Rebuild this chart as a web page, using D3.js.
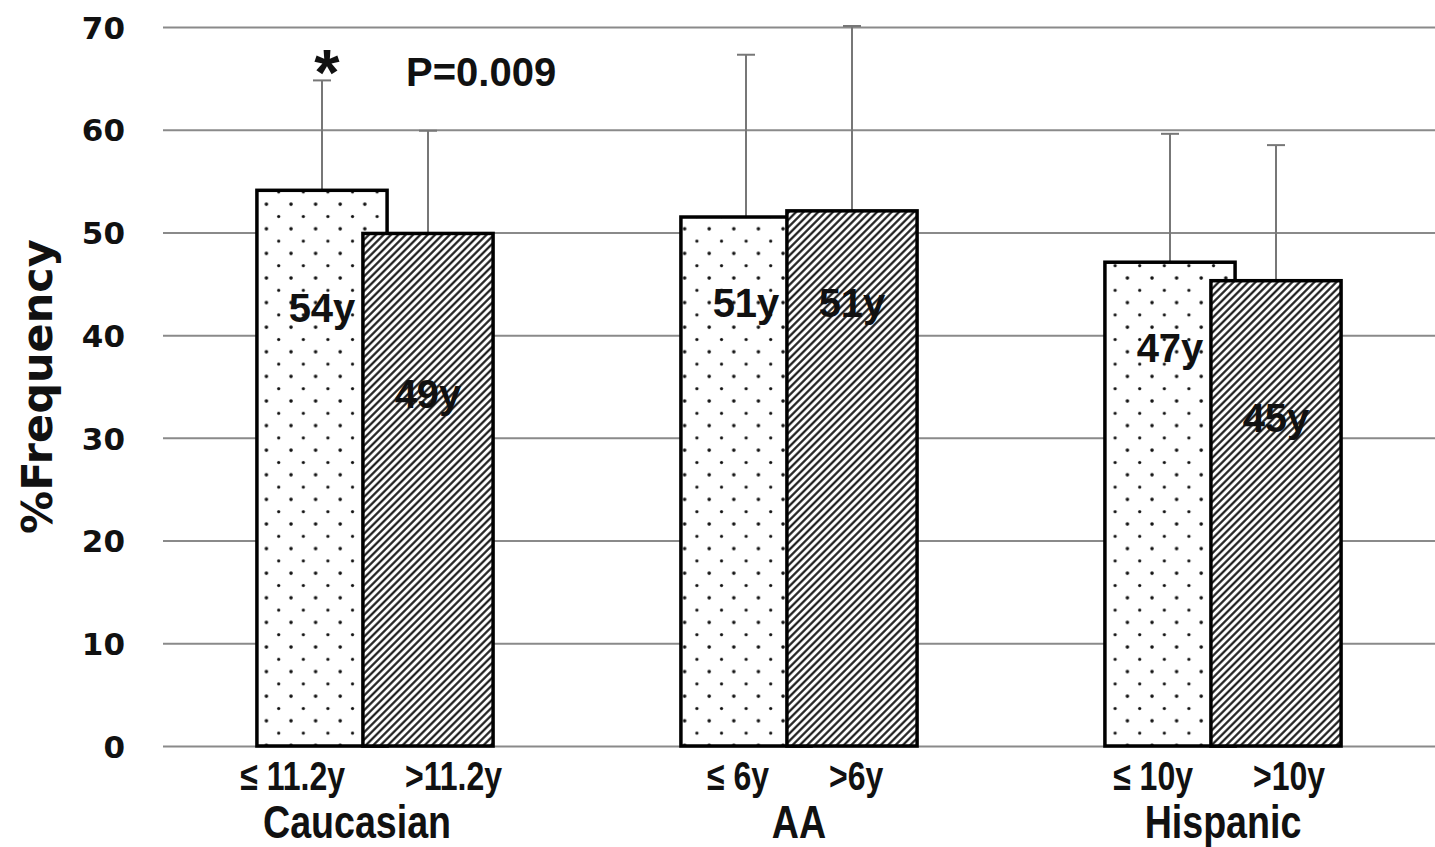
<!DOCTYPE html>
<html>
<head>
<meta charset="utf-8">
<script src="https://cdn.jsdelivr.net/npm/d3@7"></script>
<style>
  body { margin: 0; background: #fff; }
  svg { display: block; }
  .tick line { stroke: #8a8a8a; stroke-width: 2; }
  .domain { display: none; }
  .tick text { font-family: "DejaVu Sans", sans-serif; font-weight: bold; font-size: 31px; fill: #111; }
  .narrow { font-family: "Liberation Sans", Arial, sans-serif; font-weight: bold; fill: #111; }
  .ann { font-family: "Liberation Sans", Arial, sans-serif; font-weight: bold; fill: #111; }
</style>
</head>
<body>
<div id="vis"></div>
<script>
const W = 1435, H = 847;
const margin = { top: 27, right: 0, bottom: 101, left: 163 };

// data
const groups = ["Caucasian", "AA", "Hispanic"];
const lowLabels = ["\u2264 11.2y", "\u2264 6y", "\u2264 10y"];
const highLabels = [">11.2y", ">6y", ">10y"];
const lowValues = [54.1, 51.5, 47.1];
const highValues = [49.9, 52.1, 45.3];
const lowErr = [10.7, 15.8, 12.5];
const highErr = [10.0, 18.0, 13.2];
const lowAge = ["54y", "51y", "47y"];
const highAge = ["49y", "51y", "45y"];
const lowAgeAt = [41.3, 41.8, 37.4];   // label baseline, in axis units
const highAgeAt = [32.9, 41.8, 30.6];
const yTicks = [0, 10, 20, 30, 40, 50, 60, 70];

const width = W - margin.left - margin.right;
const height = H - margin.top - margin.bottom;

const svg = d3.select("#vis").append("svg")
    .attr("width", W)
    .attr("height", H);

const defs = svg.append("defs");

// dotted fill
const dots = defs.append("pattern")
    .attr("id", "dots")
    .attr("patternUnits", "userSpaceOnUse")
    .attr("width", 24.6)
    .attr("height", 24.6);
dots.append("rect").attr("width", 24.6).attr("height", 24.6).attr("fill", "#fff");
dots.append("circle").attr("cx", 5).attr("cy", 5).attr("r", 1.8).attr("fill", "#111");
dots.append("circle").attr("cx", 17.3).attr("cy", 17.3).attr("r", 1.6).attr("fill", "#111");

// diagonal hatch
const hatch = defs.append("pattern")
    .attr("id", "hatch")
    .attr("patternUnits", "userSpaceOnUse")
    .attr("width", 5.2)
    .attr("height", 10)
    .attr("patternTransform", "rotate(45)");
hatch.append("rect").attr("width", 5.2).attr("height", 10).attr("fill", "#fff");
hatch.append("line")
    .attr("x1", 1.3).attr("x2", 1.3)
    .attr("y1", 0).attr("y2", 10)
    .attr("stroke", "#111")
    .attr("stroke-width", 2.1);

const g = svg.append("g")
    .attr("transform", `translate(${margin.left},${margin.top})`);

const x0 = d3.scaleBand().domain(groups).range([0, width]).padding(0);
const y = d3.scaleLinear().domain([0, 70]).range([height, 0]);

const barW = x0.bandwidth() * 0.307;
const x1 = d3.scalePoint().domain(["low", "high"])
    .range([-x0.bandwidth() * 0.125, x0.bandwidth() * 0.125]);

// gridlines + tick labels
g.append("g")
    .attr("class", "axis y-axis")
    .call(d3.axisLeft(y).tickValues(yTicks).tickSize(-width).tickPadding(38))
    .selectAll(".tick text")
    .attr("dy", "0.36em");

const rows = groups.map((grp, i) => [
    { grp, key: "low", v: lowValues[i], e: lowErr[i], age: lowAge[i], at: lowAgeAt[i], fill: "url(#dots)" },
    { grp, key: "high", v: highValues[i], e: highErr[i], age: highAge[i], at: highAgeAt[i], fill: "url(#hatch)" }
]).flat();

const cx = d => x0(d.grp) + x0.bandwidth() / 2 + x1(d.key);

// error bars (plus side)
const err = g.append("g").attr("class", "errors");
err.selectAll("line.stem").data(rows).join("line")
    .attr("class", "stem")
    .attr("x1", cx).attr("x2", cx)
    .attr("y1", d => y(d.v)).attr("y2", d => y(d.v + d.e))
    .attr("stroke", "#777").attr("stroke-width", 2);
err.selectAll("line.cap").data(rows).join("line")
    .attr("class", "cap")
    .attr("x1", d => cx(d) - 9).attr("x2", d => cx(d) + 9)
    .attr("y1", d => y(d.v + d.e)).attr("y2", d => y(d.v + d.e))
    .attr("stroke", "#777").attr("stroke-width", 2);

// bars, second bar of each pair drawn over the first
g.append("g").attr("class", "bars")
    .selectAll("rect").data(rows).join("rect")
    .attr("x", d => cx(d) - barW / 2)
    .attr("y", d => y(d.v))
    .attr("width", barW)
    .attr("height", d => height - y(d.v))
    .attr("fill", d => d.fill)
    .attr("stroke", "#000")
    .attr("stroke-width", 3.5);

// age labels inside bars
g.append("g").selectAll("text").data(rows).join("text")
    .attr("class", "ann")
    .attr("x", cx)
    .attr("y", d => y(d.at))
    .attr("text-anchor", "middle")
    .style("font-size", "40px")
    .text(d => d.age);

// significance marks
const first = rows[0];
g.append("text")
    .attr("class", "ann")
    .attr("x", cx(first) + 5)
    .attr("y", y(first.v + first.e) + 15)
    .attr("text-anchor", "middle")
    .style("font-size", "65px")
    .text("*");
g.append("text")
    .attr("class", "ann")
    .attr("x", cx(rows[1]) - 22)
    .attr("y", y(first.v + first.e) + 6)
    .style("font-size", "40px")
    .text("P=0.009");

// category labels (condensed horizontally like the original)
const xl = g.append("g").attr("class", "x-labels");
function narrowText(x, yy, anchor, size, txt) {
    xl.append("text").attr("class", "narrow")
        .attr("transform", `translate(${x},${yy}) scale(0.8,1)`)
        .attr("text-anchor", anchor)
        .style("font-size", size + "px")
        .text(txt);
}
groups.forEach((grp, i) => {
    const c = x0(grp) + x0.bandwidth() / 2;
    narrowText(c - 30, height + 44, "end", 40, lowLabels[i]);
    narrowText(c + 30, height + 44, "start", 40, highLabels[i]);
    narrowText(c - (i === 0 ? 18 : 0), height + 92, "middle", 47, grp);
});

// y title
svg.append("text")
    .attr("transform", `translate(52,${margin.top + y(35)}) rotate(-90)`)
    .attr("text-anchor", "middle")
    .style("font-family", "'DejaVu Sans', sans-serif")
    .style("font-weight", "bold")
    .style("font-size", "43px")
    .attr("fill", "#111")
    .text("%Frequency");
</script>
</body>
</html>
